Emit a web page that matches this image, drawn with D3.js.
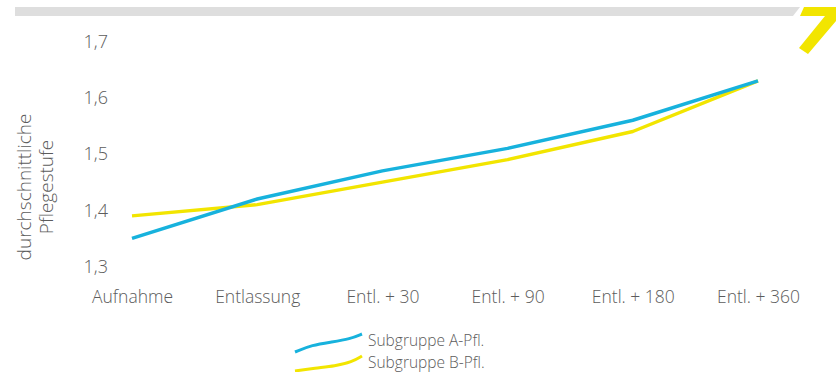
<!DOCTYPE html>
<html>
<head>
<meta charset="utf-8">
<script src="https://cdn.jsdelivr.net/npm/d3@7/dist/d3.min.js"></script>
<style>
  html, body { margin: 0; padding: 0; background: #fff; }
  svg { display: block; }
  text { font-family: "Open Sans", Lato, "DejaVu Sans", sans-serif; font-weight: 300; fill: #5c5c5c; }
</style>
</head>
<body>
<svg id="chart" width="836" height="372"></svg>
<script>
// Average care level per measurement point
const categories = ["Aufnahme", "Entlassung", "Entl. + 30", "Entl. + 90", "Entl. + 180", "Entl. + 360"];
const seriesNames = ["Subgruppe A-Pfl.", "Subgruppe B-Pfl."];
const valuesA = [1.35, 1.42, 1.47, 1.51, 1.56, 1.63];
const valuesB = [1.39, 1.41, 1.45, 1.49, 1.54, 1.63];
const yTicks = [1.3, 1.4, 1.5, 1.6, 1.7];
const colors = ["#17b2dd", "#f2e500"];

const svg = d3.select("#chart");

// Header band with the corner mark
svg.append("polygon")
  .attr("points", "15,7 800,7 793,16 15,16")
  .attr("fill", "#dedede");
svg.append("polygon")
  .attr("points", "804,7 836,7 836,21 808,54 799,48 825,16 800,16")
  .attr("fill", "#f2e500");

const x = d3.scalePoint().domain(categories).range([132, 758]);
const y = d3.scaleLinear().domain([1.3, 1.7]).range([266.5, 41.5]);

const fmt = d => d3.format(".1f")(d).replace(".", ",");

// y axis labels (no axis line)
const yAxis = svg.append("g")
  .attr("transform", "translate(108,0)")
  .call(d3.axisLeft(y).tickValues(yTicks).tickFormat(fmt).tickSize(0).tickPadding(0));
yAxis.select(".domain").remove();
yAxis.selectAll("text")
  .style("font-size", "18px")
  .attr("fill", "#5c5c5c")
  .style("font-family", null);

// x axis labels
const xAxis = svg.append("g")
  .attr("transform", "translate(0,303)")
  .call(d3.axisBottom(x).tickSize(0).tickPadding(0));
xAxis.select(".domain").remove();
xAxis.selectAll("text")
  .attr("y", 0)
  .attr("dy", 0)
  .style("font-size", "17.5px")
  .attr("fill", "#5c5c5c")
  .style("font-family", null);

// y axis title
const yTitle = svg.append("text")
  .attr("transform", "translate(31,187) rotate(-90)")
  .attr("text-anchor", "middle")
  .style("font-size", "19px");
yTitle.append("tspan").attr("x", 0).attr("dy", 0).text("durchschnittliche");
yTitle.append("tspan").attr("x", 0).attr("dy", 22).text("Pflegestufe");

// lines
const line = d3.line()
  .x((d, i) => x(categories[i]))
  .y(d => y(d));

[valuesB, valuesA].forEach((vals, k) => {
  svg.append("path")
    .datum(vals)
    .attr("d", line)
    .attr("fill", "none")
    .attr("stroke", k === 0 ? colors[1] : colors[0])
    .attr("stroke-width", 3.5)
    .attr("stroke-linejoin", "round");
});

// legend with small wavy swatches
const legend = svg.append("g");
const swatch = d3.line().curve(d3.curveBasis);
const legendRows = [
  { name: seriesNames[0], color: colors[0], pts: [[295, 352], [312, 345], [332, 342], [350, 339], [362, 334]], ty: 346 },
  { name: seriesNames[1], color: colors[1], pts: [[295, 371], [315, 368], [335, 366], [352, 362], [362, 356]], ty: 367.5 }
];
legendRows.forEach(r => {
  legend.append("path")
    .attr("d", swatch(r.pts))
    .attr("fill", "none")
    .attr("stroke", r.color)
    .attr("stroke-width", 3);
  legend.append("text")
    .attr("x", 368)
    .attr("y", r.ty)
    .style("font-size", "15.5px")
    .text(r.name);
});
</script>
</body>
</html>
